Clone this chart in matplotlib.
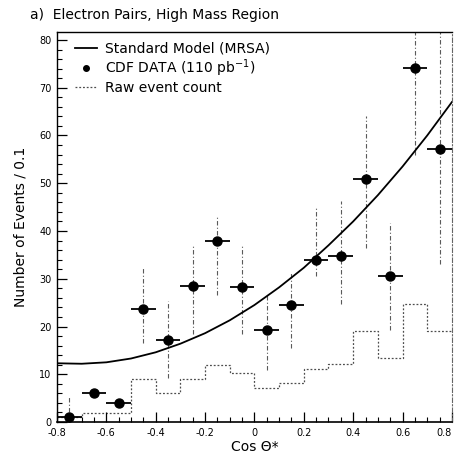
import numpy as np
import matplotlib
matplotlib.use("Agg")
import matplotlib.pyplot as plt
from matplotlib.ticker import MultipleLocator, FixedLocator
from matplotlib.lines import Line2D

# ---- data ----
bin_centers = [-0.75, -0.65, -0.55, -0.45, -0.35, -0.25, -0.15, -0.05,
               0.05, 0.15, 0.25, 0.35, 0.45, 0.55, 0.65, 0.75]
data_values = [1.0, 6.0, 4.0, 23.7, 17.2, 28.5, 38.0, 28.2,
               19.3, 24.6, 34.0, 34.8, 50.8, 30.5, 74.2, 57.2]
err_low = [0.0, 6.0, 4.0, 16.5, 9.2, 18.5, 26.5, 18.5,
           10.8, 15.4, 30.6, 24.8, 36.5, 19.2, 56.0, 33.0]
err_high = [5.2, 6.0, 4.0, 32.3, 25.4, 37.3, 43.1, 37.3,
            26.9, 31.2, 45.0, 46.2, 64.0, 41.7, 92.0, 82.0]

bin_edges = [-0.8, -0.7, -0.6, -0.5, -0.4, -0.3, -0.2, -0.1, 0.0,
             0.1, 0.2, 0.3, 0.4, 0.5, 0.6, 0.7, 0.8]
raw_counts = [1.0, 1.9, 1.9, 9.0, 6.0, 9.0, 12.0, 10.2,
              7.1, 8.1, 11.2, 12.1, 19.0, 13.3, 24.8, 19.0]

model_x = [-0.8, -0.7, -0.6, -0.5, -0.4, -0.3, -0.2, -0.1, 0.0,
           0.1, 0.2, 0.3, 0.4, 0.5, 0.6, 0.7, 0.8]
model_y = [12.3, 12.2, 12.5, 13.3, 14.6, 16.4, 18.6, 21.3, 24.5,
           28.2, 32.3, 37.0, 42.0, 47.5, 53.5, 60.0, 67.0]

x_tick_vals = [-0.8, -0.6, -0.4, -0.2, 0.0, 0.2, 0.4, 0.6, 0.8]
x_tick_labels = ["-0.8", "-0.6", "-0.4", "-0.2", "0", "0.2", "0.4", "0.6", "0.8"]
y_tick_vals = [0, 10, 20, 30, 40, 50, 60, 70, 80]
y_tick_labels = ["0", "10", "20", "30", "40", "50", "60", "70", "80"]

# ---- figure ----
plt.rcParams['font.family'] = ['DejaVu Sans']
fig = plt.figure(figsize=(4.56, 4.55), dpi=100)
ax = fig.add_axes([0.125, 0.0725, 0.866, 0.8575])

xc = np.array(bin_centers)
yv = np.array(data_values)
lo = np.array(err_low)
hi = np.array(err_high)

dashdot = (0, (4, 2, 1, 2))
dotted = (0, (1.5, 1.5))

# vertical error bars (dash-dot, thin grey)
for x, l, h in zip(xc, lo, hi):
    if h - l > 0.01:
        ax.plot([x, x], [l, h], color='0.35', lw=0.8, ls=dashdot, zorder=2)

# raw event count histogram (dotted)
counts_ext = raw_counts + [raw_counts[-1]]
ax.step(bin_edges, counts_ext, where='post', color='0.3', lw=0.9,
        ls=dotted, zorder=1)

# standard model curve (with its closing edge at the left border)
ax.plot([model_x[0], model_x[0]], [0, model_y[0]], color='0.4', lw=0.8,
        ls=dotted, zorder=1)
ax.plot(model_x, model_y, color='black', lw=1.3, zorder=3)

# data points with horizontal bin-width bars
ax.errorbar(xc, yv, xerr=0.05, fmt='o', color='black', ms=6.5,
            elinewidth=1.3, capsize=0, zorder=4)

ax.set_xlim(-0.8, 0.8)
ax.set_ylim(0, 81.7)

ax.xaxis.set_major_locator(FixedLocator(x_tick_vals))
ax.set_xticklabels(x_tick_labels)
ax.xaxis.set_minor_locator(MultipleLocator(0.05))
ax.yaxis.set_major_locator(FixedLocator(y_tick_vals))
ax.set_yticklabels(y_tick_labels)
ax.yaxis.set_minor_locator(MultipleLocator(2))

ax.tick_params(axis='both', which='major', direction='in', length=7, width=0.9,
               labelsize=7, top=False, right=False, pad=4)
ax.tick_params(axis='both', which='minor', direction='in', length=3.5, width=0.8,
               top=False, right=False)

# keep the last x label inside the figure
ax.get_xticklabels()[-1].set_horizontalalignment('right')

ax.spines['right'].set_linestyle(dashdot)
ax.spines['right'].set_color('0.4')
ax.spines['right'].set_linewidth(0.8)
ax.spines['top'].set_linewidth(1.0)
ax.spines['left'].set_linewidth(1.0)
ax.spines['bottom'].set_linewidth(1.2)

ax.set_xlabel("Cos \u0398*", fontsize=10, labelpad=2)
ax.set_ylabel("Number of Events / 0.1", fontsize=10, labelpad=8)

fig.text(0.066, 0.968, "a)  Electron Pairs, High Mass Region", fontsize=10,
         ha='left', va='center')

# legend
handles = [
    Line2D([], [], color='black', lw=1.3),
    Line2D([], [], color='black', marker='o', ls='none', ms=4),
    Line2D([], [], color='0.3', lw=0.9, ls=dotted),
]
labels = ["Standard Model (MRSA)", "CDF DATA (110 pb$^{-1}$)", "Raw event count"]
ax.legend(handles, labels, loc='upper left', frameon=False, fontsize=10,
          handlelength=1.6, handletextpad=0.6, labelspacing=0.15,
          borderaxespad=0.3, bbox_to_anchor=(0.02, 1.0))

fig.savefig("out.png", dpi=100)
